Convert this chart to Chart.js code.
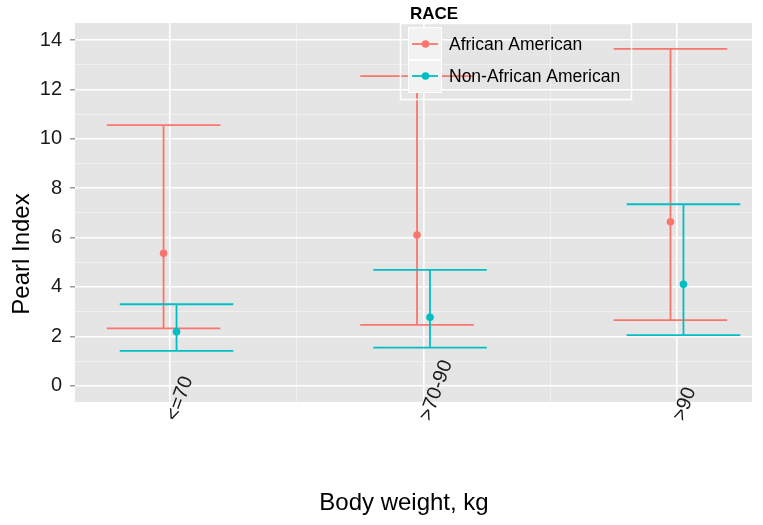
<!DOCTYPE html>
<html>
<head>
<meta charset="utf-8">
<script src="https://cdn.jsdelivr.net/npm/chart.js@4.4.1/dist/chart.umd.min.js"></script>
<style>
  html, body { margin: 0; padding: 0; background: #ffffff; }
  #wrap { width: 763px; height: 525px; position: relative; }
</style>
</head>
<body>
<div id="wrap"><canvas id="c"></canvas></div>
<script>
// ---- data ----
const categories = ['<=70', '>70-90', '>90'];
const seriesNames = ['African American', 'Non-African American'];
const aaMean = [5.36, 6.10, 6.64];
const aaLow  = [2.32, 2.46, 2.66];
const aaHigh = [10.55, 12.54, 13.64];
const naaMean = [2.19, 2.77, 4.11];
const naaLow  = [1.41, 1.54, 2.05];
const naaHigh = [3.30, 4.69, 7.35];
const yTickValues = [0, 1, 2, 3, 4, 5, 6, 7, 8, 9, 10, 11, 12, 13, 14];
const legendTitle = 'RACE';
const xTitle = 'Body weight, kg';
const yTitle = 'Pearl Index';

// ---- style ----
const RED = '#F8766D';
const TEAL = '#00BFC4';
const FONT = "'Liberation Sans', Arial, Helvetica, sans-serif";
const X_MIN = -0.375, X_MAX = 2.296;
const DODGE = 0.0256;
const CAP_HALF = 0.224;

const lows = [aaLow, naaLow];
const highs = [aaHigh, naaHigh];
const colors = [RED, TEAL];

const panelBg = {
  id: 'panelBg',
  beforeDraw(chart) {
    const { ctx, chartArea: a } = chart;
    ctx.save();
    ctx.fillStyle = '#ffffff';
    ctx.fillRect(0, 0, chart.width, chart.height);
    ctx.fillStyle = '#e5e5e5';
    ctx.fillRect(a.left, a.top, a.right - a.left, a.bottom - a.top);
    ctx.restore();
  }
};

const errorBars = {
  id: 'errorBars',
  beforeDatasetsDraw(chart) {
    const { ctx } = chart;
    const y = chart.scales.y;
    ctx.save();
    ctx.lineWidth = 1.8;
    chart.data.datasets.forEach((ds, d) => {
      const meta = chart.getDatasetMeta(d);
      const xs = chart.scales[meta.xAxisID];
      ctx.strokeStyle = colors[d];
      categories.forEach((c, i) => {
        const px = xs.getPixelForValue(i);
        const x0 = xs.getPixelForValue(i - CAP_HALF);
        const x1 = xs.getPixelForValue(i + CAP_HALF);
        const yl = y.getPixelForValue(lows[d][i]);
        const yh = y.getPixelForValue(highs[d][i]);
        ctx.beginPath();
        ctx.moveTo(px, yl); ctx.lineTo(px, yh);
        ctx.moveTo(x0, yh); ctx.lineTo(x1, yh);
        ctx.moveTo(x0, yl); ctx.lineTo(x1, yl);
        ctx.stroke();
      });
    });
    ctx.restore();
  }
};

const decorations = {
  id: 'decorations',
  afterDraw(chart) {
    const { ctx } = chart;
    const xs = chart.scales.x;
    ctx.save();
    // x tick labels (rotated)
    ctx.fillStyle = '#1a1a1a';
    ctx.font = '20px ' + FONT;
    ctx.textAlign = 'left';
    ctx.textBaseline = 'middle';
    categories.forEach((c, i) => {
      const px = xs.getPixelForValue(i);
      ctx.save();
      ctx.translate(px + 2, 420);
      ctx.rotate(-70 * Math.PI / 180);
      ctx.fillText(c, 0, 0);
      ctx.restore();
    });
    // axis titles
    ctx.fillStyle = '#000000';
    ctx.font = '24px ' + FONT;
    ctx.textAlign = 'center';
    ctx.fillText(xTitle, 404, 503);
    ctx.save();
    ctx.translate(22, 254);
    ctx.rotate(-Math.PI / 2);
    ctx.fillText(yTitle, 0, 0);
    ctx.restore();

    // legend
    ctx.font = 'bold 17px ' + FONT;
    ctx.textAlign = 'left';
    ctx.fillText(legendTitle, 410, 14);
    ctx.strokeStyle = '#ffffff';
    ctx.lineWidth = 1.5;
    ctx.strokeRect(400.5, 23.5, 231, 76);
    const keyTops = [27, 60];
    const keyY = [44, 76];
    seriesNames.forEach((name, k) => {
      ctx.fillStyle = '#f2f2f2';
      ctx.fillRect(408, keyTops[k], 34, 33);
      ctx.strokeStyle = '#ffffff';
      ctx.lineWidth = 1;
      ctx.strokeRect(408.5, keyTops[k] + 0.5, 33, 32);
      ctx.strokeStyle = colors[k];
      ctx.lineWidth = 1.8;
      ctx.beginPath();
      ctx.moveTo(412, keyY[k]); ctx.lineTo(438, keyY[k]);
      ctx.stroke();
      ctx.fillStyle = colors[k];
      ctx.beginPath();
      ctx.arc(425.5, keyY[k], 3.8, 0, Math.PI * 2);
      ctx.fill();
      ctx.fillStyle = '#000000';
      ctx.font = '17.5px ' + FONT;
      ctx.fillText(name, 449, keyY[k] + 1);
    });
    ctx.restore();
  }
};

const hiddenX = (shift) => ({
  type: 'linear', display: false, position: 'bottom',
  min: X_MIN + shift, max: X_MAX + shift
});

new Chart(document.getElementById('c'), {
  type: 'scatter',
  data: {
    datasets: [
      {
        label: seriesNames[0],
        data: categories.map((c, i) => ({ x: i, y: aaMean[i] })),
        xAxisID: 'xA',
        backgroundColor: RED, borderColor: RED,
        pointRadius: 3.8, pointBorderWidth: 0, pointHoverRadius: 3.8
      },
      {
        label: seriesNames[1],
        data: categories.map((c, i) => ({ x: i, y: naaMean[i] })),
        xAxisID: 'xB',
        backgroundColor: TEAL, borderColor: TEAL,
        pointRadius: 3.8, pointBorderWidth: 0, pointHoverRadius: 3.8
      }
    ]
  },
  options: {
    responsive: true,
    maintainAspectRatio: false,
    animation: false,
    devicePixelRatio: 1,
    layout: { padding: { left: 0, top: 23, right: 11, bottom: 0 } },
    plugins: { legend: { display: false }, tooltip: { enabled: false } },
    scales: {
      x: {
        type: 'linear', position: 'bottom', min: X_MIN, max: X_MAX,
        afterBuildTicks(scale) {
          scale.ticks = [0, 0.5, 1, 1.5, 2].map(v => ({ value: v }));
        },
        afterFit(scale) { scale.height = 123; },
        border: { display: false },
        grid: {
          drawTicks: false,
          color: (ctx) => Number.isInteger(ctx.tick.value) ? '#ffffff' : '#f2f2f2',
          lineWidth: (ctx) => Number.isInteger(ctx.tick.value) ? 1.6 : 0.8
        },
        ticks: { display: false }
      },
      xA: hiddenX(DODGE),
      xB: hiddenX(-DODGE),
      y: {
        type: 'linear', min: -0.66, max: 14.69,
        afterBuildTicks(scale) {
          scale.ticks = yTickValues.map(v => ({ value: v }));
        },
        afterFit(scale) { scale.width = 75; },
        border: { display: false },
        grid: {
          drawTicks: true,
          tickLength: 5,
          color: (ctx) => (ctx.tick.value % 2 === 0) ? '#ffffff' : '#f2f2f2',
          lineWidth: (ctx) => (ctx.tick.value % 2 === 0) ? 1.6 : 0.8,
          tickColor: (ctx) => (ctx.tick.value % 2 === 0) ? '#7f7f7f' : 'rgba(0,0,0,0)',
          tickWidth: 1.2
        },
        ticks: {
          autoSkip: false,
          padding: 8,
          color: '#1a1a1a',
          font: { family: FONT, size: 20 },
          callback: (v) => (v % 2 === 0) ? String(v) : ''
        }
      }
    }
  },
  plugins: [panelBg, errorBars, decorations]
});
</script>
</body>
</html>
